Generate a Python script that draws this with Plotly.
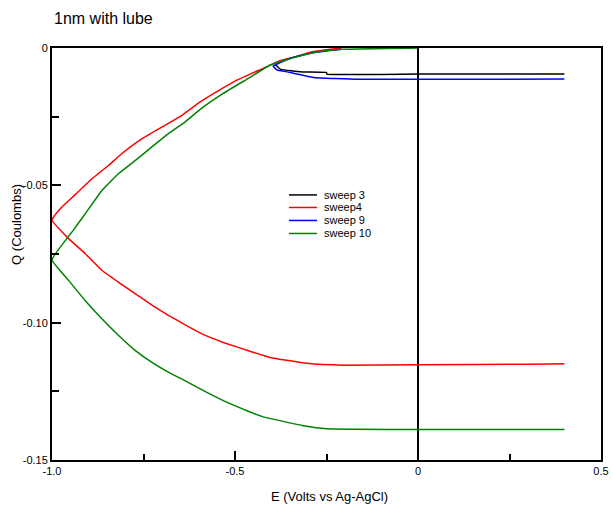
import plotly.graph_objects as go

# Charge vs potential, four sweeps
sweep_names = ["sweep 3", "sweep4", "sweep 9", "sweep 10"]
sweep_colors = ["#000000", "#ff0000", "#0000ff", "#008000"]

E3 = [-0.39, -0.375, -0.317, -0.25, -0.249, 0.0, 0.4]
Q3 = [-0.0060, -0.0078, -0.0087, -0.0089, -0.0095, -0.0095, -0.0095]

E4 = [-0.21, -0.286, -0.33, -0.377, -0.423, -0.495, -0.545, -0.595, -0.645, -0.699,
      -0.754, -0.809, -0.845, -0.891, -0.936, -0.973, -1.0,
      -0.954, -0.909, -0.863, -0.818, -0.772, -0.727, -0.681, -0.636, -0.590,
      -0.532, -0.459, -0.404, -0.304, -0.204, 0.0, 0.3, 0.4]
Q4 = [0.0, -0.0013, -0.0030, -0.0046, -0.0074, -0.0117, -0.0155, -0.0196, -0.0245, -0.0287,
      -0.0330, -0.0384, -0.0427, -0.0476, -0.0533, -0.0579, -0.0626,
      -0.0695, -0.0749, -0.0810, -0.0853, -0.0895, -0.0936, -0.0974, -0.1008, -0.1041,
      -0.1072, -0.1104, -0.1127, -0.1148, -0.1155, -0.1153, -0.1151, -0.1150]

E9 = [-0.21, -0.29, -0.35, -0.396, -0.385, -0.36, -0.286, -0.163, 0.0, 0.4]
Q9 = [-0.0005, -0.0018, -0.0038, -0.0066, -0.0080, -0.0086, -0.0107, -0.0114, -0.0114, -0.0113]

E10 = [0.0, -0.208, -0.268, -0.331, -0.404, -0.459, -0.532, -0.590, -0.636, -0.681,
       -0.727, -0.772, -0.818, -0.863, -0.909, -0.941, -1.0,
       -0.954, -0.909, -0.863, -0.818, -0.772, -0.727, -0.681, -0.636, -0.590,
       -0.532, -0.459, -0.423, -0.313, -0.249, 0.0, 0.4]
Q10 = [0.0, -0.0005, -0.0013, -0.0032, -0.0062, -0.0107, -0.0165, -0.0218, -0.0269, -0.0311,
       -0.0360, -0.0409, -0.0457, -0.0518, -0.0603, -0.0662, -0.0771,
       -0.0847, -0.0920, -0.0987, -0.1047, -0.1102, -0.1145, -0.1181, -0.1212, -0.1245,
       -0.1284, -0.1325, -0.1343, -0.1375, -0.1386, -0.1389, -0.1389]

x_tickvals = [-1.0, -0.5, 0.0, 0.5]
x_ticktext = ["-1.0", "-0.5", "0", "0.5"]
y_tickvals = [0.0, -0.05, -0.10, -0.15]
y_ticktext = ["0", "-0.05", "-0.10", "-0.15"]

FONT = "Liberation Sans, Arial, sans-serif"

fig = go.Figure()
for name, color, E, Q in zip(sweep_names, sweep_colors, [E3, E4, E9, E10], [Q3, Q4, Q9, Q10]):
    fig.add_trace(go.Scatter(x=E, y=Q, mode="lines", name=name,
                             line=dict(color=color, width=1.5, shape="spline", smoothing=0.3),
                             showlegend=False))

# Compact legend box drawn in paper coordinates
leg_x0, leg_x1, leg_tx = 0.4317, 0.4827, 0.4918
leg_rows = [0.6434, 0.6129, 0.5814, 0.5498]
for name, color, yy in zip(sweep_names, sweep_colors, leg_rows):
    fig.add_shape(type="line", xref="paper", yref="paper", x0=leg_x0, x1=leg_x1,
                  y0=yy, y1=yy, line=dict(color=color, width=1.5))
    fig.add_annotation(xref="paper", yref="paper", x=leg_tx, y=yy, text=name,
                       showarrow=False, xanchor="left", yanchor="middle",
                       font=dict(family=FONT, size=11, color="#000"))

fig.add_annotation(xref="paper", yref="paper", x=0.0, y=1.0728, text="1nm with lube",
                   showarrow=False, xanchor="left", yanchor="middle",
                   font=dict(family=FONT, size=16, color="#000"))
fig.add_annotation(xref="paper", yref="paper", x=-0.0638, y=0.573, text="Q (Coulombs)",
                   textangle=-90, showarrow=False, xanchor="center", yanchor="middle",
                   font=dict(family=FONT, size=13, color="#000"))
fig.add_annotation(xref="paper", yref="paper", x=0.5046, y=-0.0898, text="E (Volts vs Ag-AgCl)",
                   showarrow=False, xanchor="center", yanchor="middle",
                   font=dict(family=FONT, size=13, color="#000"))

fig.update_layout(
    width=613, height=508,
    margin=dict(l=52, r=12, t=48, b=48, autoexpand=False),
    paper_bgcolor="white", plot_bgcolor="white",
    font=dict(family=FONT, size=11, color="#000"),
    xaxis=dict(range=[-1.0, 0.5], tickvals=x_tickvals, ticktext=x_ticktext,
               ticks="inside", ticklen=9, tickwidth=1.5, tickcolor="#000",
               minor=dict(tickvals=[-0.75, -0.25, 0.25], ticks="inside", ticklen=6,
                          tickwidth=1.5, tickcolor="#000"),
               showline=True, linecolor="#000", linewidth=2, mirror=True,
               showgrid=False, zeroline=True, zerolinecolor="#000", zerolinewidth=1.5,
               automargin=False, tickfont=dict(size=11)),
    yaxis=dict(range=[-0.15, 0.0], tickvals=y_tickvals, ticktext=y_ticktext,
               ticks="inside", ticklen=9, tickwidth=1.5, tickcolor="#000",
               minor=dict(tickvals=[-0.025, -0.075, -0.125], ticks="inside", ticklen=7,
                          tickwidth=1.5, tickcolor="#000"),
               showline=True, linecolor="#000", linewidth=2, mirror=True,
               showgrid=False, zeroline=False, automargin=False, tickfont=dict(size=11)),
)

fig.write_html("out.html")
